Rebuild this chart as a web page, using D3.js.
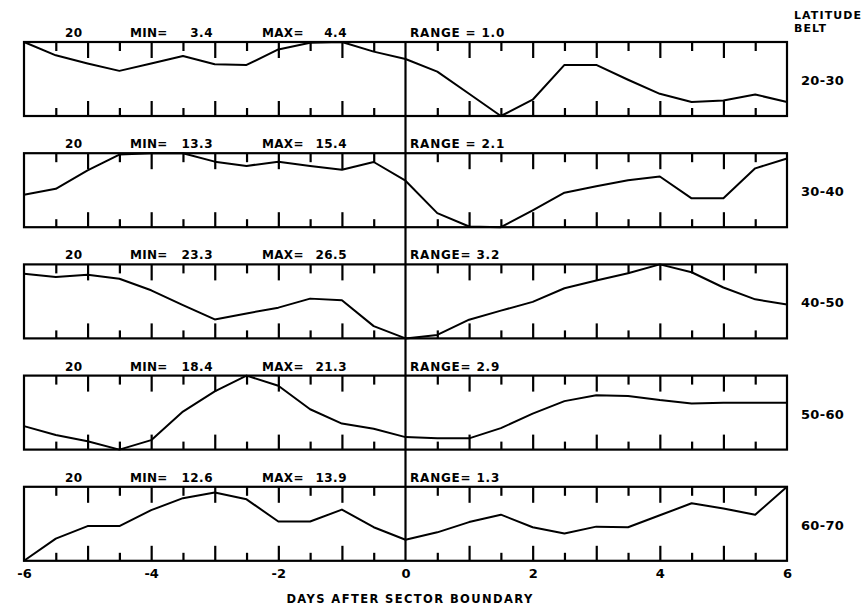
<!DOCTYPE html>
<html>
<head>
<meta charset="utf-8">
<script src="https://cdn.jsdelivr.net/npm/d3@7"></script>
<style>
  html, body { margin: 0; padding: 0; background: #fff; }
  svg { display: block; }
  text { font-family: "DejaVu Sans", sans-serif; font-weight: bold; fill: #000; }
</style>
</head>
<body>
<svg id="chart" width="868" height="606"></svg>
<script>
// ---- data ----
const days = [-6, -5.5, -5, -4.5, -4, -3.5, -3, -2.5, -2, -1.5, -1, -0.5, 0,
              0.5, 1, 1.5, 2, 2.5, 3, 3.5, 4, 4.5, 5, 5.5, 6];
const belts = ["20-30", "30-40", "40-50", "50-60", "60-70"];
const counts = ["20", "20", "20", "20", "20"];
const mins = [3.4, 13.3, 23.3, 18.4, 12.6];
const maxs = [4.4, 15.4, 26.5, 21.3, 13.9];
const rangeLabels = ["RANGE = 1.0", "RANGE = 2.1", "RANGE= 3.2", "RANGE= 2.9", "RANGE= 1.3"];
const minLabels = ["3.4", "13.3", "23.3", "18.4", "12.6"];
const maxLabels = ["4.4", "15.4", "26.5", "21.3", "13.9"];

const belt2030 = [4.40,4.22,4.11,4.01,4.11,4.21,4.10,4.09,4.30,4.39,4.40,4.27,4.17,
                  4.00,3.70,3.40,3.62,4.09,4.09,3.89,3.70,3.59,3.61,3.69,3.59];
const belt3040 = [14.22,14.39,14.91,15.36,15.40,15.40,15.16,15.04,15.16,15.04,14.93,15.15,14.62,
                  13.70,13.32,13.30,13.78,14.28,14.46,14.63,14.74,14.12,14.12,14.97,15.25];
const belt4050 = [26.10,25.96,26.05,25.88,25.38,24.74,24.12,24.38,24.63,25.02,24.95,23.83,23.30,
                  23.45,24.11,24.50,24.88,25.47,25.80,26.12,26.50,26.16,25.50,24.99,24.77];
const belt5060 = [19.32,18.97,18.73,18.40,18.77,19.89,20.68,21.30,20.90,19.98,19.42,19.22,18.89,
                  18.84,18.84,19.24,19.81,20.30,20.53,20.50,20.34,20.21,20.24,20.24,20.24];
const belt6070 = [12.60,12.99,13.21,13.21,13.49,13.70,13.80,13.68,13.29,13.29,13.50,13.19,12.97,
                  13.10,13.28,13.41,13.19,13.08,13.20,13.19,13.40,13.61,13.52,13.41,13.90];
const series = [belt2030, belt3040, belt4050, belt5060, belt6070];

const xTickLabels = [-6, -4, -2, 0, 2, 4, 6];
const majorTicks = [-5, -4, -3, -2, -1, 1, 2, 3, 4, 5];
const minorTicks = [-5.5, -4.5, -3.5, -2.5, -1.5, -0.5, 0.5, 1.5, 2.5, 3.5, 4.5, 5.5];

// ---- layout ----
const svg = d3.select("#chart");
const left = 24, right = 787;
const firstTop = 42, step = 111.2, panelH = 74;
const x = d3.scaleLinear().domain([-6, 6]).range([left, right]);

series.forEach((vals, i) => {
  const top = firstTop + i * step;
  const bottom = top + panelH;
  const y = d3.scaleLinear().domain([mins[i], maxs[i]]).range([bottom, top]);
  const g = svg.append("g");

  // frame
  g.append("rect")
    .attr("x", left).attr("y", top)
    .attr("width", right - left).attr("height", panelH)
    .attr("fill", "none").attr("stroke", "#000").attr("stroke-width", 2.2);

  // ticks: top (pointing down) and bottom (pointing up)
  const mkAxis = (gen, vals, len) => gen(x).tickValues(vals).tickSize(-len).tickFormat("");
  const addAxis = (ax, ty) => {
    const a = g.append("g").attr("transform", `translate(0,${ty})`).call(ax);
    a.select(".domain").remove();
    a.selectAll("line").attr("stroke", "#000").attr("stroke-width", 2.2);
  };
  addAxis(mkAxis(d3.axisTop, majorTicks, 16), top);
  addAxis(mkAxis(d3.axisTop, minorTicks, 9), top);
  addAxis(mkAxis(d3.axisBottom, majorTicks, 15), bottom);
  addAxis(mkAxis(d3.axisBottom, minorTicks, 8), bottom);

  // data line
  const line = d3.line().x((d, j) => x(days[j])).y(d => y(d));
  g.append("path").datum(vals)
    .attr("d", line)
    .attr("fill", "none").attr("stroke", "#000")
    .attr("stroke-width", 2).attr("stroke-linejoin", "round");

  // header texts
  const ty = top - 5;
  const fs = "12px";
  g.append("text").attr("x", 65).attr("y", ty).style("font-size", fs)
    .style("letter-spacing", "0.5px").text(counts[i]);
  g.append("text").attr("x", 130).attr("y", ty).style("font-size", fs)
    .style("letter-spacing", "0.3px").text("MIN=");
  g.append("text").attr("x", 213).attr("y", ty).attr("text-anchor", "end").style("font-size", fs)
    .style("letter-spacing", "0.5px").text(minLabels[i]);
  g.append("text").attr("x", 262).attr("y", ty).style("font-size", fs)
    .style("letter-spacing", "0.3px").text("MAX=");
  g.append("text").attr("x", 347).attr("y", ty).attr("text-anchor", "end").style("font-size", fs)
    .style("letter-spacing", "0.5px").text(maxLabels[i]);
  g.append("text").attr("x", 410).attr("y", ty).style("font-size", fs)
    .style("letter-spacing", "0.8px").text(rangeLabels[i]);

  // belt label
  g.append("text").attr("x", 801).attr("y", (top + bottom) / 2 + 6)
    .style("font-size", "13px").style("letter-spacing", "0.3px").text(belts[i]);
});

// zero line through all panels
svg.append("line")
  .attr("x1", x(0)).attr("x2", x(0))
  .attr("y1", firstTop).attr("y2", firstTop + 4 * step + panelH)
  .attr("stroke", "#000").attr("stroke-width", 2.2);

// x axis labels
const lastBottom = firstTop + 4 * step + panelH;
const xa = svg.append("g").attr("transform", `translate(0,${lastBottom})`)
  .call(d3.axisBottom(x).tickValues(xTickLabels).tickSize(0).tickPadding(8)
    .tickFormat(d => d < 0 ? "-" + Math.abs(d) : String(d)));
xa.select(".domain").remove();
xa.selectAll("text").style("font-size", "13px").style("font-family", "DejaVu Sans, sans-serif")
  .style("font-weight", "bold");

// axis title
svg.append("text").attr("x", 410).attr("y", 603).attr("text-anchor", "middle")
  .style("font-size", "11.5px").style("letter-spacing", "1.4px")
  .text("DAYS AFTER SECTOR BOUNDARY");

// legend title
svg.append("text").attr("x", 794).attr("y", 19).style("font-size", "11px")
  .style("letter-spacing", "1.1px").text("LATITUDE");
svg.append("text").attr("x", 794).attr("y", 32).style("font-size", "11px")
  .style("letter-spacing", "1.1px").text("BELT");
</script>
</body>
</html>
